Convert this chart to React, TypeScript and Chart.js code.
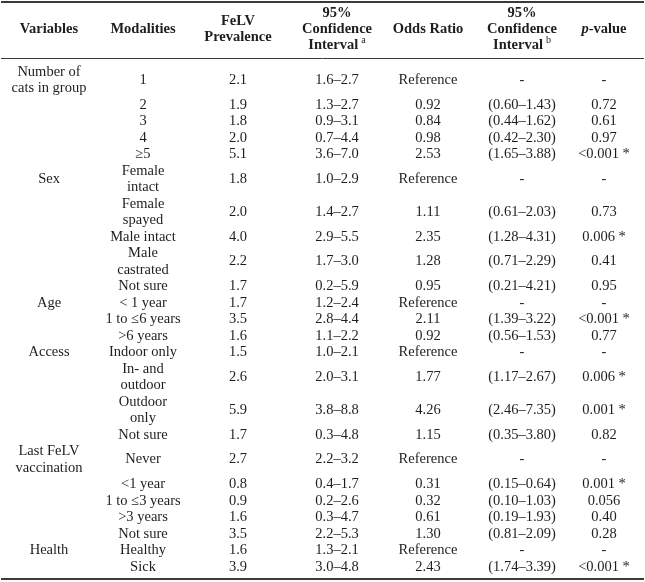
import { useEffect, useRef } from "react";
import { Chart, registerables } from "chart.js";

Chart.register(...registerables);

// ---------- data ----------
const headers = ["Variables", "Modalities", "FeLV\nPrevalence", "95%\nConfidence\nInterval|a", "Odds Ratio", "95%\nConfidence\nInterval|b", "p-value"];

const variableLabels = ["Number of\ncats in group", "Sex", "Age", "Access", "Last FeLV\nvaccination", "Health"];
const variableStartRow = [0, 5, 10, 13, 17, 22];

const modalities = [
  "1", "2", "3", "4", "≥5",
  "Female\nintact", "Female\nspayed", "Male intact", "Male\ncastrated", "Not sure",
  "< 1 year", "1 to ≤6 years", ">6 years",
  "Indoor only", "In- and\noutdoor", "Outdoor\nonly", "Not sure",
  "Never", "<1 year", "1 to ≤3 years", ">3 years", "Not sure",
  "Healthy", "Sick",
];

const prevalence = [2.1, 1.9, 1.8, 2.0, 5.1, 1.8, 2.0, 4.0, 2.2, 1.7, 1.7, 3.5, 1.6, 1.5, 2.6, 5.9, 1.7, 2.7, 0.8, 0.9, 1.6, 3.5, 1.6, 3.9];

const ciA = [
  "1.6–2.7", "1.3–2.7", "0.9–3.1", "0.7–4.4", "3.6–7.0",
  "1.0–2.9", "1.4–2.7", "2.9–5.5", "1.7–3.0", "0.2–5.9",
  "1.2–2.4", "2.8–4.4", "1.1–2.2",
  "1.0–2.1", "2.0–3.1", "3.8–8.8", "0.3–4.8",
  "2.2–3.2", "0.4–1.7", "0.2–2.6", "0.3–4.7", "2.2–5.3",
  "1.3–2.1", "3.0–4.8",
];

const oddsRatio: (number | null)[] = [
  null, 0.92, 0.84, 0.98, 2.53,
  null, 1.11, 2.35, 1.28, 0.95,
  null, 2.11, 0.92,
  null, 1.77, 4.26, 1.15,
  null, 0.31, 0.32, 0.61, 1.30,
  null, 2.43,
];

const ciB = [
  "-", "(0.60–1.43)", "(0.44–1.62)", "(0.42–2.30)", "(1.65–3.88)",
  "-", "(0.61–2.03)", "(1.28–4.31)", "(0.71–2.29)", "(0.21–4.21)",
  "-", "(1.39–3.22)", "(0.56–1.53)",
  "-", "(1.17–2.67)", "(2.46–7.35)", "(0.35–3.80)",
  "-", "(0.15–0.64)", "(0.10–1.03)", "(0.19–1.93)", "(0.81–2.09)",
  "-", "(1.74–3.39)",
];

const pValues = [
  "-", "0.72", "0.61", "0.97", "<0.001 *",
  "-", "0.73", "0.006 *", "0.41", "0.95",
  "-", "<0.001 *", "0.77",
  "-", "0.006 *", "0.001 *", "0.82",
  "-", "0.001 *", "0.056", "0.40", "0.28",
  "-", "<0.001 *",
];

// ---------- layout ----------
const W = 645;
const H = 582;
const colCenters = [49, 143, 238, 337, 428, 522, 604];
const topRuleY = 2;
const headRuleY = 58.5;
const bottomRuleY = 579;
const headerMidY = 29;
const lineH = 16.5;
const bodyPad = 5;
const FONT = '"Liberation Serif", "Times New Roman", serif';
const TEXT = "#1e1e1e";
const RULE = "#3a3a3a";

const tablePlugin = {
  id: "tableText",
  afterDraw(chart: any) {
    const ctx: CanvasRenderingContext2D = chart.ctx;
    const xs = chart.scales.x;
    const ys = chart.scales.y;
    const X = (v: number) => xs.getPixelForValue(v);
    const Y = (v: number) => ys.getPixelForValue(v);
    ctx.save();
    ctx.fillStyle = "#ffffff";
    ctx.fillRect(0, 0, W, H);

    // rules
    ctx.strokeStyle = RULE;
    ctx.lineWidth = 2.2;
    ctx.beginPath();
    ctx.moveTo(X(1), Y(topRuleY));
    ctx.lineTo(X(W - 1), Y(topRuleY));
    ctx.moveTo(X(1), Y(bottomRuleY));
    ctx.lineTo(X(W - 1), Y(bottomRuleY));
    ctx.stroke();
    ctx.lineWidth = 1;
    ctx.beginPath();
    ctx.moveTo(X(1), Y(headRuleY));
    ctx.lineTo(X(W - 1), Y(headRuleY));
    ctx.stroke();

    ctx.fillStyle = TEXT;
    ctx.textBaseline = "middle";

    // headers
    const hb = `bold 14.5px ${FONT}`;
    headers.forEach((h, ci) => {
      const lines = h.split("\n");
      const cx = X(colCenters[ci]);
      lines.forEach((ln, li) => {
        const y = Y(headerMidY + (li - (lines.length - 1) / 2) * 16);
        if (ln.includes("|")) {
          const [main, sup] = ln.split("|");
          ctx.font = hb;
          const w1 = ctx.measureText(main).width;
          ctx.font = `10px ${FONT}`;
          const w2 = ctx.measureText(sup).width;
          const total = w1 + 3 + w2;
          const x0 = cx - total / 2;
          ctx.textAlign = "left";
          ctx.font = hb;
          ctx.fillText(main, x0, y);
          ctx.font = `10px ${FONT}`;
          ctx.fillText(sup, x0 + w1 + 3, y - 5);
        } else if (ln === "p-value") {
          ctx.font = `italic bold 14.5px ${FONT}`;
          const w1 = ctx.measureText("p").width;
          ctx.font = hb;
          const w2 = ctx.measureText("-value").width;
          const x0 = cx - (w1 + w2) / 2;
          ctx.textAlign = "left";
          ctx.font = `italic bold 14.5px ${FONT}`;
          ctx.fillText("p", x0, y);
          ctx.font = hb;
          ctx.fillText("-value", x0 + w1, y);
        } else {
          ctx.font = hb;
          ctx.textAlign = "center";
          ctx.fillText(ln, cx, y);
        }
      });
    });

    // row geometry
    const rowLines = modalities.map((m, i) => {
      let n = m.split("\n").length;
      const vi = variableStartRow.indexOf(i);
      if (vi >= 0) n = Math.max(n, variableLabels[vi].split("\n").length);
      return n;
    });
    const rowCenters: number[] = [];
    let cur = headRuleY + bodyPad;
    rowLines.forEach((n) => {
      rowCenters.push(cur + (n * lineH) / 2);
      cur += n * lineH;
    });

    const body = `14.5px ${FONT}`;
    ctx.font = body;
    ctx.textAlign = "center";
    const drawMulti = (txt: string, colIdx: number, cy: number) => {
      const lines = txt.split("\n");
      lines.forEach((ln, li) => {
        ctx.fillText(ln, X(colCenters[colIdx]), Y(cy + (li - (lines.length - 1) / 2) * lineH));
      });
    };

    variableLabels.forEach((v, vi) => drawMulti(v, 0, rowCenters[variableStartRow[vi]]));
    modalities.forEach((m, i) => {
      const cy = rowCenters[i];
      drawMulti(m, 1, cy);
      drawMulti(prevalence[i].toFixed(1), 2, cy);
      drawMulti(ciA[i], 3, cy);
      drawMulti(oddsRatio[i] === null ? "Reference" : (oddsRatio[i] as number).toFixed(2), 4, cy);
      drawMulti(ciB[i], 5, cy);
      drawMulti(pValues[i], 6, cy);
    });
    ctx.restore();
  },
};

export default function App() {
  const ref = useRef<HTMLCanvasElement | null>(null);
  useEffect(() => {
    if (!ref.current) return;
    const chart = new Chart(ref.current, {
      type: "scatter",
      data: { datasets: [] },
      options: {
        responsive: false,
        animation: false,
        devicePixelRatio: 1,
        layout: { padding: 0 },
        plugins: { legend: { display: false }, tooltip: { enabled: false } },
        scales: {
          x: { type: "linear", min: 0, max: W, display: false },
          y: { type: "linear", min: 0, max: H, reverse: true, display: false },
        },
      },
      plugins: [tablePlugin],
    });
    return () => chart.destroy();
  }, []);
  return (
    <div style={{ position: "fixed", left: 0, top: 0, width: W, height: H, background: "#fff" }}>
      <canvas ref={ref} width={W} height={H} style={{ width: W, height: H, display: "block" }} />
    </div>
  );
}
